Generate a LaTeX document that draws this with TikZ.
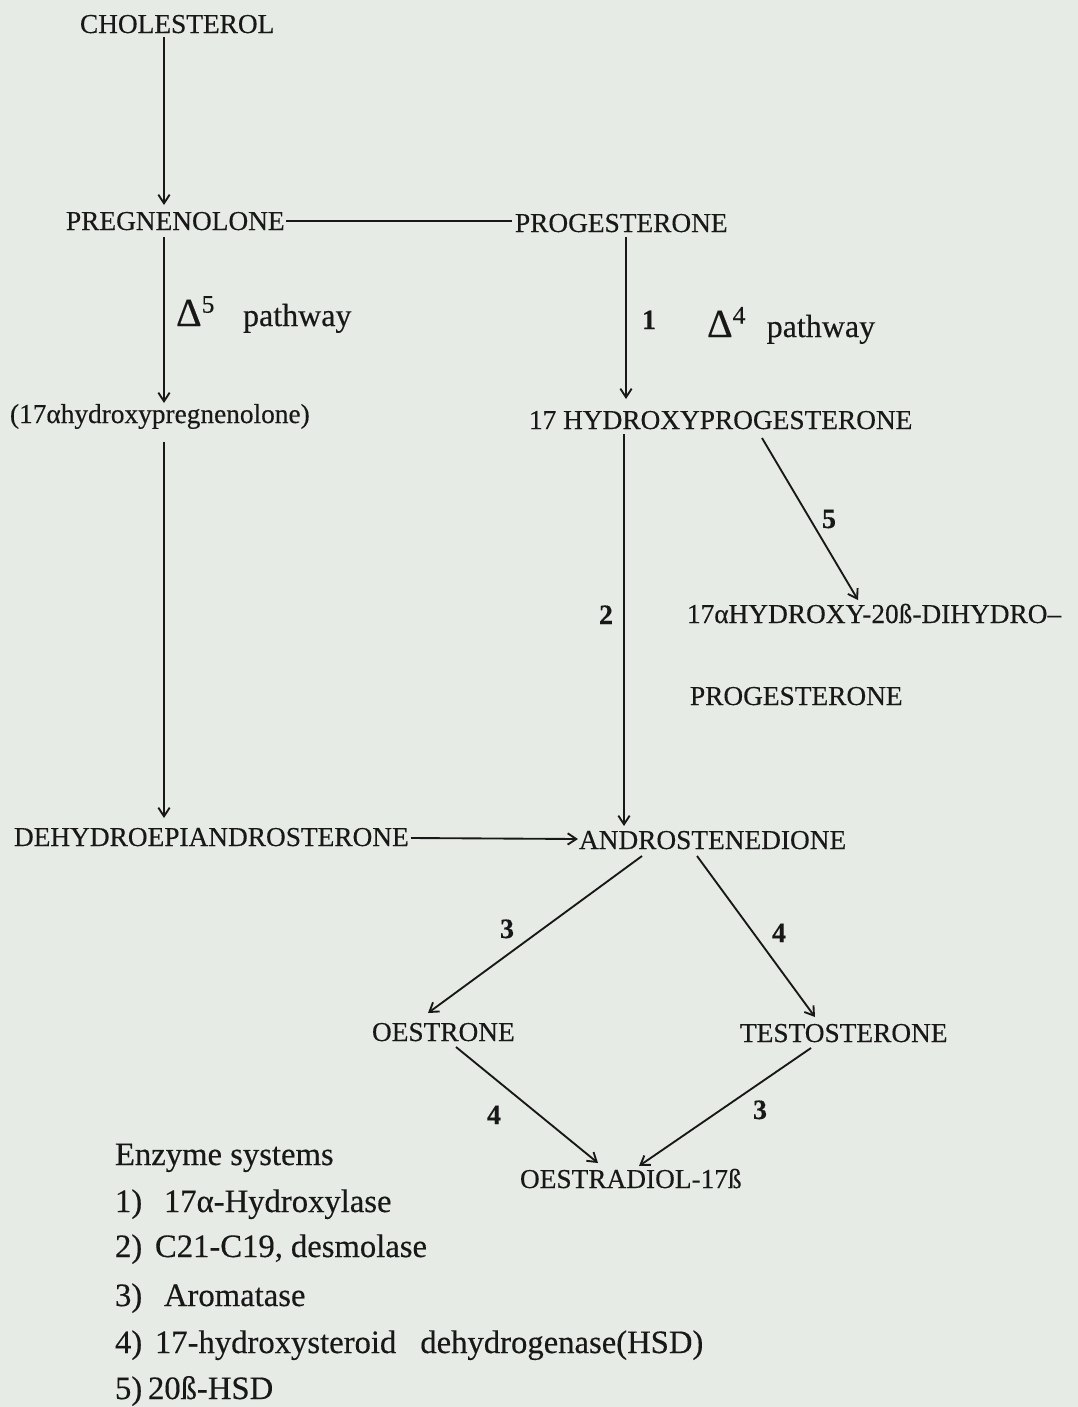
\documentclass[tikz,border=0pt]{standalone}
\usepackage{fontspec}
\setmainfont{Liberation Serif}[FakeBold=0.35]
\usetikzlibrary{arrows.meta,calc}
\definecolor{paper}{RGB}{231,235,229}
\definecolor{ink}{RGB}{24,24,24}
\begin{document}
\begin{tikzpicture}[x=0.75pt,y=-0.75pt,
  lbl/.style={anchor=base west,inner sep=0pt,outer sep=0pt,text=ink,font=\fontsize{20.5}{24}\selectfont},
  num/.style={anchor=base west,inner sep=0pt,outer sep=0pt,text=ink,font=\fontsize{21}{24}\selectfont\bfseries},
  lst/.style={anchor=base west,inner sep=0pt,outer sep=0pt,text=ink,font=\fontsize{24.5}{28}\selectfont},
  pth/.style={anchor=base west,inner sep=0pt,outer sep=0pt,text=ink,font=\fontsize{24}{28}\selectfont},
  arr/.style={draw=ink,line width=1.4pt,-{Straight Barb[length=6.5pt,width=8.5pt]}},
  ln/.style={draw=ink,line width=1.4pt}]
\fill[paper] (0,0) rectangle (1078,1407);
\useasboundingbox (0,0) rectangle (1078,1407);

% compounds
\node[lbl] (chol) at (80,33) {CHOLESTEROL};
\node[lbl] (preg) at (66,230) {PREGNENOLONE};
\node[lbl] (prog) at (515,232) {PROGESTERONE};
\node[lbl] (hpreg) at (10,423) {(17αhydroxypregnenolone)};
\node[lbl] (hprog) at (529,429) {17 HYDROXYPROGESTERONE};
\node[lbl] (dha) at (687,623) {17αHYDROXY-20ß-DIHYDRO–};
\node[lbl] (dhb) at (690,705) {PROGESTERONE};
\node[lbl] (dhea) at (14,846) {DEHYDROEPIANDROSTERONE};
\node[lbl] (andro) at (579,849) {ANDROSTENEDIONE};
\node[lbl] (oestrone) at (372,1041) {OESTRONE};
\node[lbl] (testo) at (740,1042) {TESTOSTERONE};
\node[lbl] (oestradiol) at (520,1188) {OESTRADIOL-17ß};

% pathway labels
\node[pth] (d5) at (176,326) {{\fontsize{30}{32}\selectfont Δ}\raisebox{10pt}{\fontsize{19}{21}\selectfont 5}\hspace{21.5pt}pathway};
\node[pth] (d4) at (707,337) {{\fontsize{30}{32}\selectfont Δ}\raisebox{10pt}{\fontsize{19}{21}\selectfont 4}\hspace{16pt}pathway};

% enzyme numbers
\node[num] (n1) at (642,329) {1};
\node[num] (n2) at (599,624) {2};
\node[num] (n5) at (822,528) {5};
\node[num] (n3a) at (500,938) {3};
\node[num] (n4a) at (772,942) {4};
\node[num] (n4b) at (487,1124) {4};
\node[num] (n3b) at (753,1119) {3};

% connectors
\draw[arr] ($(chol.base west)+(84,4)$) -- ($(preg.base west)+(98,-25)$);
\draw[ln] ($(preg.base west)+(220,-9)$) -- ($(prog.base west)+(-3,-11)$);
\draw[arr] ($(preg.base west)+(98,7)$) -- ($(hpreg.base west)+(154,-20)$);
\draw[arr] ($(prog.base west)+(111,5)$) -- ($(hprog.base west)+(97,-30)$);
\draw[arr] ($(hpreg.base west)+(154,19)$) -- ($(dhea.base west)+(150,-28)$);
\draw[arr] ($(hprog.base west)+(95,5)$) -- ($(andro.base west)+(45,-23)$);
\draw[arr] ($(hprog.base west)+(233,9)$) -- ($(dha.base west)+(171,-23)$);
\draw[arr] ($(dhea.base west)+(397,-8)$) -- ($(andro.base west)+(-1,-10)$);
\draw[arr] ($(andro.base west)+(63,7)$) -- ($(oestrone.base west)+(56,-28)$);
\draw[arr] ($(andro.base west)+(118,7)$) -- ($(testo.base west)+(75,-25)$);
\draw[arr] ($(oestrone.base west)+(84,6)$) -- ($(oestradiol.base west)+(78,-25)$);
\draw[arr] ($(testo.base west)+(71,6)$) -- ($(oestradiol.base west)+(119,-22)$);

% enzyme list
\node[lst] (l0) at (115,1165) {Enzyme systems};
\node[lst] (l1) at (115,1212) {\makebox[36.75pt][l]{1)}17α-Hydroxylase};
\node[lst] (l2) at (115,1257) {\makebox[30pt][l]{2)}C21-C19,\hspace{6pt}desmolase};
\node[lst] (l3) at (115,1306) {\makebox[36.75pt][l]{3)}Aromatase};
\node[lst] (l4) at (115,1353) {\makebox[30pt][l]{4)}17-hydroxysteroid\hspace{18pt}dehydrogenase(HSD)};
\node[lst] (l5) at (115,1399) {\makebox[24.75pt][l]{5)}20ß-HSD};
\end{tikzpicture}
\end{document}
